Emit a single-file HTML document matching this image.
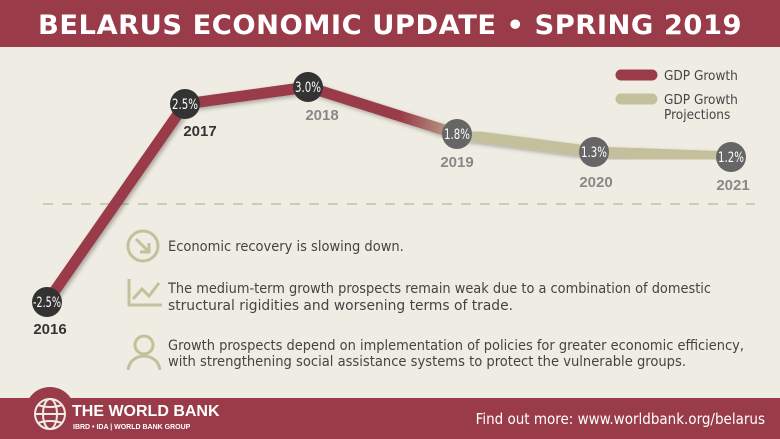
<!DOCTYPE html>
<html><head><meta charset="utf-8"><style>
body{margin:0;width:780px;height:439px;overflow:hidden;background:#efede3;font-family:"DejaVu Sans Condensed","Liberation Sans",sans-serif;}
svg{display:block}
</style></head><body>
<svg width="780" height="439" viewBox="0 0 780 439" xmlns="http://www.w3.org/2000/svg">
<defs>
<linearGradient id="g" x1="400" y1="0" x2="470" y2="0" gradientUnits="userSpaceOnUse">
<stop offset="0" stop-color="#9a3b4a"/><stop offset="1" stop-color="#c4c09b"/></linearGradient>
<filter id="sh"><feDropShadow dx="2" dy="2" stdDeviation="2" flood-opacity="0.3"/></filter>
</defs>
<rect width="780" height="439" fill="#efede3"/>
<rect x="0" y="0" width="780" height="47" fill="#9a3b4a"/>
<text x="390" y="34" text-anchor="middle" fill="#fff" font-family="DejaVu Sans" font-weight="bold" font-size="27" letter-spacing="0.5" textLength="704" lengthAdjust="spacingAndGlyphs">BELARUS ECONOMIC UPDATE • SPRING 2019</text>
<line x1="43" y1="204" x2="755" y2="204" stroke="#cfcbb0" stroke-width="2" stroke-dasharray="10,9"/>
<polyline points="47,302 185,104 308,87" fill="none" stroke="#9a3b4a" stroke-width="11" stroke-linejoin="round" filter="url(#sh)"/>
<polyline points="308,87 457,134" fill="none" stroke="url(#g)" stroke-width="11" filter="url(#sh)"/>
<polyline points="457,134 594,152 731,157" fill="none" stroke="#c4c09b" stroke-width="11" stroke-linejoin="round" filter="url(#sh)"/>
<g font-size="14" fill="#fff" text-anchor="middle">
<circle cx="47" cy="302" r="15" fill="#333"/><text x="47" y="307" textLength="28" lengthAdjust="spacingAndGlyphs">-2.5%</text>
<circle cx="185" cy="104" r="15" fill="#333"/><text x="185" y="109" textLength="26" lengthAdjust="spacingAndGlyphs">2.5%</text>
<circle cx="308" cy="87" r="15" fill="#333"/><text x="308" y="92" textLength="26" lengthAdjust="spacingAndGlyphs">3.0%</text>
<circle cx="457" cy="134" r="15" fill="#666"/><text x="457" y="139" textLength="26" lengthAdjust="spacingAndGlyphs">1.8%</text>
<circle cx="594" cy="152" r="15" fill="#666"/><text x="594" y="157" textLength="26" lengthAdjust="spacingAndGlyphs">1.3%</text>
<circle cx="731" cy="157" r="15" fill="#666"/><text x="731" y="162" textLength="26" lengthAdjust="spacingAndGlyphs">1.2%</text>
</g>
<g font-size="15" font-weight="bold" text-anchor="middle" font-family="Liberation Sans">
<text x="50" y="334" fill="#333">2016</text>
<text x="200" y="136" fill="#333">2017</text>
<text x="322" y="120" fill="#888">2018</text>
<text x="457" y="167" fill="#888">2019</text>
<text x="596" y="187" fill="#888">2020</text>
<text x="733" y="190" fill="#888">2021</text>
</g>
<line x1="621" y1="75" x2="652" y2="75" stroke="#9a3b4a" stroke-width="11" stroke-linecap="round"/>
<line x1="621" y1="99" x2="652" y2="99" stroke="#c4c09b" stroke-width="11" stroke-linecap="round"/>
<g font-size="13.5" fill="#444">
<text x="664" y="80">GDP Growth</text>
<text x="664" y="104">GDP Growth</text>
<text x="664" y="119">Projections</text>
</g>
<g fill="none" stroke="#c4c09b" stroke-width="3">
<circle cx="143" cy="246" r="15"/>
<path d="M136,239 L149,252 M149,243 L149,252 L140,252"/>
<path d="M129,279 L129,305 L162,305 M133,299 L142,289 L149,296 L159,283"/>
<circle cx="144" cy="345" r="9"/>
<path d="M128,370 Q130,357 144,356 Q158,357 160,370"/>
</g>
<g font-size="14.5" fill="#444">
<text x="168" y="251">Economic recovery is slowing down.</text>
<text x="168" y="293" textLength="543" lengthAdjust="spacingAndGlyphs">The medium-term growth prospects remain weak due to a combination of domestic</text>
<text x="168" y="310" textLength="345" lengthAdjust="spacingAndGlyphs">structural rigidities and worsening terms of trade.</text>
<text x="168" y="350" textLength="576" lengthAdjust="spacingAndGlyphs">Growth prospects depend on implementation of policies for greater economic efficiency,</text>
<text x="168" y="366" textLength="518" lengthAdjust="spacingAndGlyphs">with strengthening social assistance systems to protect the vulnerable groups.</text>
</g>
<rect x="0" y="398" width="780" height="41" fill="#9a3b4a"/>
<circle cx="50" cy="412" r="25" fill="#9a3b4a"/>
<g fill="none" stroke="#efede3" stroke-width="2">
<circle cx="50" cy="414" r="15"/>
<ellipse cx="50" cy="414" rx="7" ry="15"/>
<line x1="35" y1="414" x2="65" y2="414"/>
<path d="M38,405 Q50,409 62,405 M38,423 Q50,419 62,423"/>
</g>
<text x="72" y="416" fill="#fff" font-family="Liberation Sans" font-weight="bold" font-size="16">THE WORLD BANK</text>
<text x="73" y="429" fill="#fff" font-family="Liberation Sans" font-weight="bold" font-size="7">IBRD • IDA  |  WORLD BANK GROUP</text>
<text x="765" y="424" text-anchor="end" fill="#fff" font-size="15">Find out more: www.worldbank.org/belarus</text>
</svg>
</body></html>
